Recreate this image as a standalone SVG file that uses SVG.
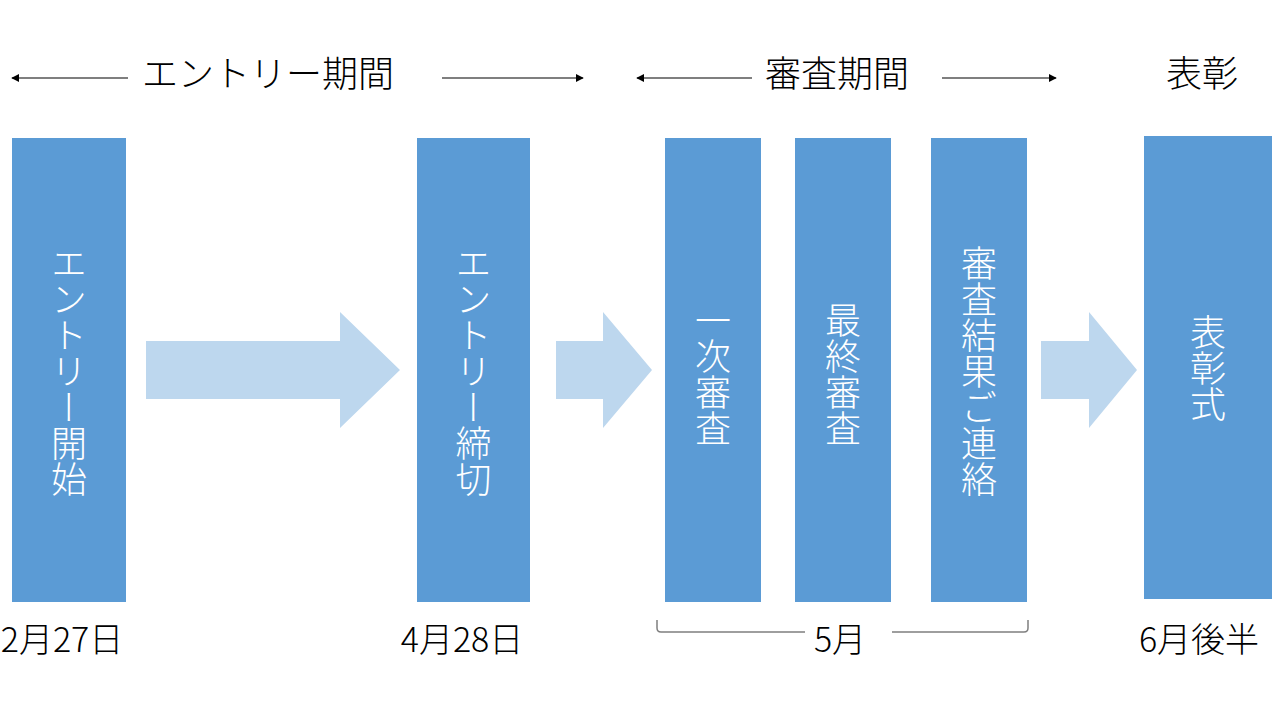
<svg xmlns="http://www.w3.org/2000/svg" width="1280" height="720" viewBox="0 0 1280 720">
<style>
.bar{fill:#5B9BD5}
.arr{fill:#BDD7EE}
.vt{font-family:"Noto Sans CJK JP","Noto Sans CJK SC",sans-serif;font-size:36px;font-weight:300;fill:#ffffff;writing-mode:vertical-rl;text-anchor:middle}
.hd{font-family:"Noto Sans CJK JP","Noto Sans CJK SC",sans-serif;font-size:36px;font-weight:300;fill:#000000;text-anchor:middle}
.dt{font-family:"Noto Sans CJK JP","Noto Sans CJK SC",sans-serif;font-size:34px;font-weight:300;fill:#000000;text-anchor:middle}
.ln{stroke:#000000;stroke-width:1.2;fill:none}
.br{stroke:#7F7F7F;stroke-width:1.5;fill:none}
</style>
<defs>
<marker id="ah" viewBox="0 0 10 10" refX="9" refY="5" markerWidth="8" markerHeight="8" markerUnits="userSpaceOnUse" orient="auto-start-reverse">
<path d="M0,0 L10,5 L0,10 Z" fill="#000000"/>
</marker>
</defs>
<rect width="1280" height="720" fill="#ffffff"/>

<g id="header">
<text class="hd" x="268" y="87">エントリー期間</text>
<text class="hd" x="837" y="87">審査期間</text>
<text class="hd" x="1202" y="87">表彰</text>
</g>

<g id="connectors">
<line class="ln" x1="128" y1="78" x2="12" y2="78" marker-end="url(#ah)"/>
<line class="ln" x1="442" y1="78" x2="583" y2="78" marker-end="url(#ah)"/>
<line class="ln" x1="752" y1="78" x2="637" y2="78" marker-end="url(#ah)"/>
<line class="ln" x1="942" y1="78" x2="1056" y2="78" marker-end="url(#ah)"/>
<polygon class="arr" points="146,341 340,341 340,312 400,370 340,428 340,399 146,399"/>
<polygon class="arr" points="556,341 603,341 603,312 652,370 603,428 603,399 556,399"/>
<polygon class="arr" points="1041,341 1089,341 1089,312 1137,370 1089,428 1089,399 1041,399"/>
<path class="br" d="M657,620 L657,628 Q657,632 661,632 L805,632"/>
<path class="br" d="M892,632 L1024,632 Q1028,632 1028,628 L1028,620"/>
</g>

<g id="node-entry-start">
<rect class="bar" x="12" y="138" width="114" height="464"/>
<text class="vt" x="69" y="371">エントリー開始</text>
</g>
<g id="node-entry-end">
<rect class="bar" x="417" y="138" width="113" height="464"/>
<text class="vt" x="473.5" y="371">エントリー締切</text>
</g>
<g id="node-first">
<rect class="bar" x="665" y="138" width="96" height="464"/>
<text class="vt" x="713" y="374">一次審査</text>
</g>
<g id="node-final">
<rect class="bar" x="795" y="138" width="96" height="464"/>
<text class="vt" x="843" y="374">最終審査</text>
</g>
<g id="node-result">
<rect class="bar" x="931" y="138" width="96" height="464"/>
<text class="vt" x="979" y="371">審査結果ご連絡</text>
</g>
<g id="node-award">
<rect class="bar" x="1144" y="136" width="128" height="463"/>
<text class="vt" x="1208" y="368">表彰式</text>
</g>

<g id="dates">
<text class="dt" x="62" y="652">2月27日</text>
<text class="dt" x="462" y="652">4月28日</text>
<text class="dt" x="840" y="652">5月</text>
<text class="dt" x="1199" y="652">6月後半</text>
</g>
</svg>
